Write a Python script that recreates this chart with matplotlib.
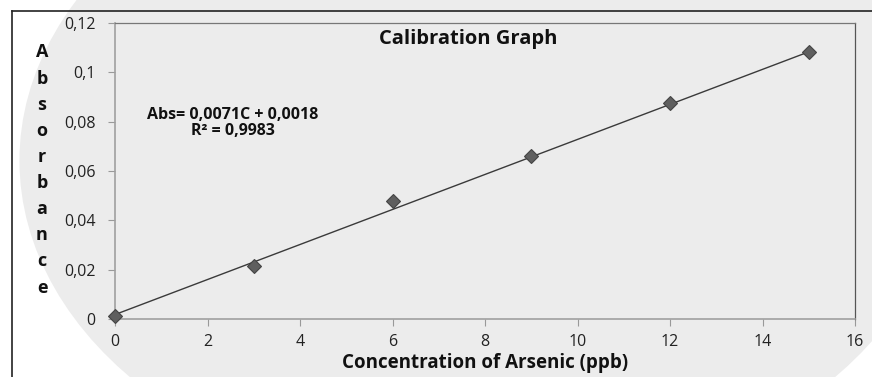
import matplotlib.pyplot as plt
from matplotlib.patches import Ellipse
from matplotlib.lines import Line2D

# calibration standards
conc = [0, 3, 6, 9, 12, 15]
absorb = [0.0012, 0.0215, 0.0479, 0.0662, 0.0877, 0.1084]
slope = 0.0071
intercept = 0.0018
r2 = 0.9983

xticks = [0, 2, 4, 6, 8, 10, 12, 14, 16]
yticks = [0, 0.02, 0.04, 0.06, 0.08, 0.1, 0.12]
ylabels = ['0', '0,02', '0,04', '0,06', '0,08', '0,1', '0,12']

plt.rcParams['font.family'] = ['Open Sans', 'DejaVu Sans']

fig = plt.figure(figsize=(8.72, 3.77), dpi=100)
fig.patch.set_facecolor('white')

# big soft grey backdrop
fig.patches.append(Ellipse((0.5533, 0.574), 1.062, 1.772, transform=fig.transFigure,
                           facecolor='#ececec', edgecolor='none', zorder=-5))
# frame lines top / left
fig.add_artist(Line2D([12/872, 1], [1-11/377, 1-11/377], transform=fig.transFigure,
                      color='#222222', lw=1.2))
fig.add_artist(Line2D([12/872, 12/872], [0, 1-11/377], transform=fig.transFigure,
                      color='#222222', lw=1.2))

ax = fig.add_axes([115/872, 1-319/377, 740/872, 296/377])
ax.set_zorder(2)
ax.patch.set_alpha(0)

ax.plot(conc, absorb, linestyle='none', marker='D', markersize=7.5,
        markerfacecolor='#5f5f5f', markeredgecolor='#444444', markeredgewidth=0.8,
        zorder=3, clip_on=False)
fitx = [0, 15]
fity = [intercept + slope*v for v in fitx]
ax.plot(fitx, fity, color='#3a3a3a', lw=1.0, zorder=2)

ax.set_xlim(0, 16)
ax.set_ylim(0, 0.12)
ax.set_xticks(xticks)
ax.set_xticklabels([str(v) for v in xticks])
ax.set_yticks(yticks)
ax.set_yticklabels(ylabels)
ax.tick_params(axis='both', direction='out', length=5, width=0.8, color='#999999',
               labelsize=11.5, labelcolor='#222222')
ax.tick_params(axis='y', pad=9)
ax.tick_params(axis='x', pad=6)

for s in ['left', 'bottom']:
    ax.spines[s].set_color('#a0a0a0')
    ax.spines[s].set_linewidth(1.2)
ax.spines['top'].set_color('#777777')
ax.spines['top'].set_linewidth(0.9)
ax.spines['right'].set_color('#555555')
ax.spines['right'].set_linewidth(0.9)

fig.text(468/872, 1-39/377, 'Calibration Graph', ha='center', va='center',
         fontsize=14.5, fontweight='bold', color='#111111')
fig.text(485/872, 1-363/377, 'Concentration of Arsenic (ppb)', ha='center', va='center',
         fontsize=13.5, fontweight='bold', color='#111111')
fig.text(42/872, 1-170/377, '\n'.join('Absorbance'), ha='center', va='center',
         fontsize=13, fontweight='bold', color='#111111', linespacing=1.58)
fig.text(233/872, 1-123/377, 'Abs= 0,0071C + 0,0018\nR\u00b2 = 0,9983', ha='center',
         va='center', fontsize=11.5, fontweight='bold', color='#111111', linespacing=1.05)

fig.savefig('out.png', dpi=100)
